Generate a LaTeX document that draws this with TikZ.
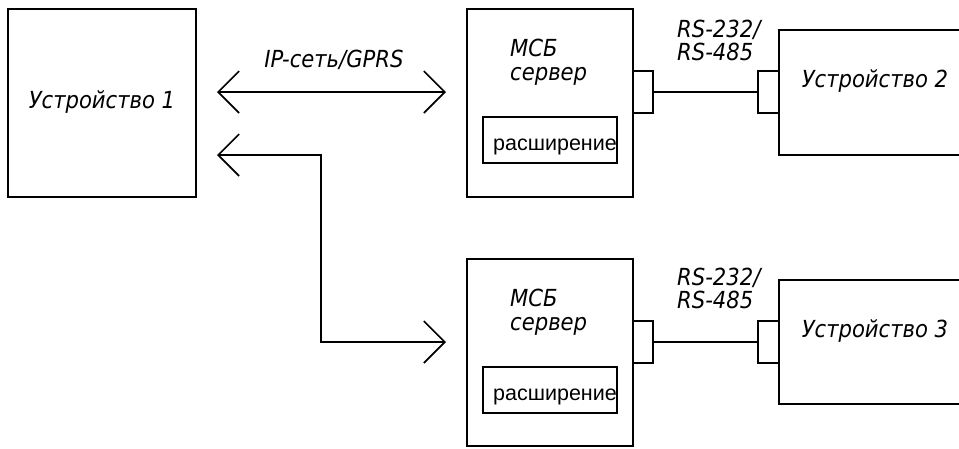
\documentclass[tikz,border=0pt]{standalone}
\usepackage{fontspec}
\newfontfamily\labfont{DejaVu Sans Condensed}
\newfontfamily\extfont{Liberation Sans}
\usetikzlibrary{arrows.meta}

\begin{document}
\begin{tikzpicture}[x=1pt,y=-1pt,
	box/.style={draw,line width=1.6pt,inner sep=0,outer sep=0},
	lab/.style={font=\labfont\itshape\fontsize{23.5}{28}\selectfont,inner sep=0},
	extlab/.style={font=\extfont\fontsize{21.5}{25}\selectfont,inner sep=0},
	wire/.style={line width=1.6pt},
	biarrow/.style={line width=1.6pt,{Straight Barb[length=21pt,width=42pt]}-{Straight Barb[length=21pt,width=42pt]},shorten <=21pt,shorten >=21pt}]
	\useasboundingbox (0,0) rectangle (959,448);
	\clip (0,0) rectangle (959,448);
	% boxes
	\node[box,minimum width=188,minimum height=188] (dev1) at (102,103) {};
	\node[box,minimum width=166,minimum height=188] (srv1) at (550,103) {};
	\node[box,minimum width=134,minimum height=46] (ext1) at (550,140) {};
	\node[box,minimum width=166,minimum height=187] (srv2) at (550,352.5) {};
	\node[box,minimum width=134,minimum height=46] (ext2) at (550,390) {};
	\node[box,minimum width=20,minimum height=42] (port1a) at (643,92) {};
	\node[box,minimum width=21,minimum height=42] (port1b) at (768.5,92) {};
	\node[box,minimum width=20,minimum height=42] (port2a) at (643,342) {};
	\node[box,minimum width=21,minimum height=42] (port2b) at (768.5,342) {};
	\node[box,minimum width=192,minimum height=125] (dev2) at (875,92.5) {};
	\node[box,minimum width=192,minimum height=124] (dev3) at (875,342) {};
	% texts
	\node[lab,anchor=base] (dev1t) at ([yshift=-5pt]dev1.center) {Устройство 1};
	\node[lab,anchor=base] (dev2t) at (875,87) {Устройство 2};
	\node[lab,anchor=base] (dev3t) at (875,337) {Устройство 3};
	\node[lab,anchor=base] (net) at (334,67) {IP-сеть/GPRS};
	\node[lab,anchor=base west] (srv1a) at (510,56) {МСБ};
	\node[lab,anchor=base west] (srv1b) at (510,80) {сервер};
	\node[lab,anchor=base west] (srv2a) at (510,306) {МСБ};
	\node[lab,anchor=base west] (srv2b) at (510,330) {сервер};
	\node[lab,anchor=base west] (rs1a) at (677,37) {RS-232/};
	\node[lab,anchor=base west] (rs1b) at (677,60) {RS-485};
	\node[lab,anchor=base west] (rs2a) at (677,285) {RS-232/};
	\node[lab,anchor=base west] (rs2b) at (677,308) {RS-485};
	\node[extlab,anchor=base east] (ext1t) at ([yshift=-10pt]ext1.east) {расширение};
	\node[extlab,anchor=base east] (ext2t) at ([yshift=-10pt]ext2.east) {расширение};
	% links
	\draw[biarrow] (dev1.east |- port1a) -- (srv1.west |- port1a);
	\draw[biarrow] ([yshift=-52pt]dev1.east) -- ++(125,0) |- (srv2.west |- port2a);
	\draw[wire] (port1a) -- (port1b);
	\draw[wire] (port2a) -- (port2b);
\end{tikzpicture}
\end{document}
